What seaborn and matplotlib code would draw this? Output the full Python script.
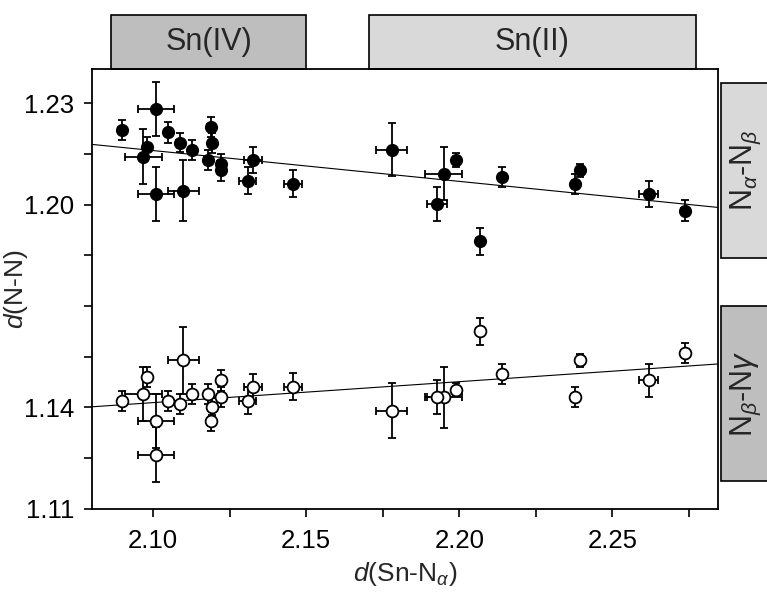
import numpy as np
import pandas as pd
import matplotlib
matplotlib.use("Agg")
import matplotlib.pyplot as plt
import matplotlib.transforms as mtrans
from matplotlib.patches import Rectangle
import seaborn as sns

# d(Sn-N_alpha) and its uncertainty
sn_n = [2.0898, 2.0979, 2.0968, 2.1010, 2.1010, 2.1050, 2.1088, 2.1099, 2.1129,
        2.1178, 2.1189, 2.1194, 2.1222, 2.1222, 2.1327, 2.1309, 2.1457,
        2.1779, 2.1949, 2.1928, 2.1990, 2.2068, 2.2141, 2.2395, 2.2379, 2.2618, 2.2736]
sn_n_err = [0.0012, 0.0012, 0.0060, 0.0060, 0.0060, 0.0012, 0.0012, 0.0050, 0.0012,
            0.0012, 0.0012, 0.0012, 0.0012, 0.0012, 0.0029, 0.0028, 0.0030,
            0.0050, 0.0060, 0.0033, 0.0012, 0.0012, 0.0012, 0.0012, 0.0012, 0.0032, 0.0012]

# d(N_alpha-N_beta)
n_ab = [1.2221, 1.2170, 1.2142, 1.2282, 1.2031, 1.2213, 1.2183, 1.2041, 1.2162,
        1.2132, 1.2230, 1.2181, 1.2120, 1.2101, 1.2132, 1.2071, 1.2061,
        1.2162, 1.2091, 1.2001, 1.2132, 1.1891, 1.2081, 1.2101, 1.2061, 1.2031, 1.1982]
n_ab_err = [0.0030, 0.0030, 0.0080, 0.0079, 0.0080, 0.0030, 0.0029, 0.0091, 0.0030,
            0.0030, 0.0030, 0.0030, 0.0030, 0.0030, 0.0038, 0.0040, 0.0040,
            0.0079, 0.0079, 0.0050, 0.0020, 0.0039, 0.0030, 0.0020, 0.0030, 0.0039, 0.0030]

# d(N_beta-N_gamma)
n_bg = [1.1420, 1.1490, 1.1440, 1.1359, 1.1261, 1.1420, 1.1411, 1.1539, 1.1440,
        1.1440, 1.1361, 1.1402, 1.1480, 1.1431, 1.1461, 1.1420, 1.1461,
        1.1391, 1.1430, 1.1430, 1.1453, 1.1625, 1.1500, 1.1539, 1.1430, 1.1480, 1.1561]
n_bg_err = [0.0030, 0.0030, 0.0080, 0.0080, 0.0080, 0.0030, 0.0030, 0.0100, 0.0030,
            0.0030, 0.0030, 0.0025, 0.0030, 0.0030, 0.0039, 0.0040, 0.0040,
            0.0080, 0.0090, 0.0050, 0.0020, 0.0039, 0.0030, 0.0020, 0.0030, 0.0050, 0.0030]

x_ticks = [2.100, 2.125, 2.150, 2.175, 2.200, 2.225, 2.250, 2.275]
x_tick_labels = ["2.10", "", "2.15", "", "2.20", "", "2.25", ""]
y_ticks = [1.110, 1.125, 1.140, 1.155, 1.170, 1.185, 1.200, 1.215, 1.230]
y_tick_labels = ["1.11", "", "1.14", "", "", "", "1.20", "", "1.23"]

# oxidation-state strips on top (x range) and bond strips on the right (y range)
top_strips = [("Sn(IV)", 2.0862, 2.1501, "#bebebe"), ("Sn(II)", 2.1705, 2.2772, "#d9d9d9")]
right_strips = [(r"N$_\alpha$-N$_\beta$", 1.1843, 1.2360, "#d9d9d9"),
                (r"N$_\beta$-N$\gamma$", 1.1182, 1.1699, "#bebebe")]

sns.set_theme(style="ticks")
plt.rcParams['font.family'] = ['Liberation Sans', 'DejaVu Sans']
plt.rcParams['mathtext.fontset'] = 'custom'
plt.rcParams['mathtext.rm'] = 'Liberation Sans'
plt.rcParams['mathtext.it'] = 'Liberation Sans:italic'
plt.rcParams['mathtext.bf'] = 'Liberation Sans:bold'

df = pd.DataFrame({"sn_n": sn_n, "sn_n_err": sn_n_err,
                   "n_ab": n_ab, "n_ab_err": n_ab_err,
                   "n_bg": n_bg, "n_bg_err": n_bg_err})

fig = plt.figure(figsize=(7.67, 5.99), dpi=100)
ax = fig.add_axes([0.1196, 0.1503, 0.8166, 0.7341])
ax.set_xlim(2.080, 2.2845)
ax.set_ylim(1.110, 1.240)

# fitted lines across the full panel
for col in ["n_ab", "n_bg"]:
    sns.regplot(data=df, x="sn_n", y=col, ax=ax, scatter=False, ci=None,
                truncate=False, color="black", line_kws=dict(lw=0.8, zorder=1))

for col in ["n_ab", "n_bg"]:
    ax.errorbar(df["sn_n"], df[col], xerr=df["sn_n_err"], yerr=df[col + "_err"],
                fmt="none", ecolor="black", elinewidth=1.3, capsize=2.8,
                capthick=1.3, zorder=2)

sns.scatterplot(data=df, x="sn_n", y="n_ab", ax=ax, color="black", marker="o",
                s=72, edgecolor="black", linewidth=1.0, zorder=3)
sns.scatterplot(data=df, x="sn_n", y="n_bg", ax=ax, color="white", marker="o",
                s=72, edgecolor="black", linewidth=1.3, zorder=3)

ax.set_xticks(x_ticks)
ax.set_xticklabels(x_tick_labels)
ax.set_yticks(y_ticks)
ax.set_yticklabels(y_tick_labels)
ax.tick_params(axis="both", direction="out", length=5.5, width=1.2,
               labelsize=18.5, colors="black", pad=7)
ax.tick_params(axis="x", pad=9)
for sp in ax.spines.values():
    sp.set_visible(True)
    sp.set_linewidth(1.3)
    sp.set_color("black")

ax.set_xlabel(r"$d$(Sn-N$_\alpha$)", fontsize=19, labelpad=5)
ax.set_ylabel(r"$d$(N-N)", fontsize=19)
ax.yaxis.set_label_coords(-0.098, 0.5)

tr_top = mtrans.blended_transform_factory(ax.transData, ax.transAxes)
for label, x0, x1, fc in top_strips:
    ax.add_patch(Rectangle((x0, 1.0), x1 - x0, 0.1235, transform=tr_top,
                           facecolor=fc, edgecolor="black", lw=1.2, clip_on=False))
    ax.text((x0 + x1) / 2, 1.0 + 0.0618, label, transform=tr_top, fontsize=22,
            ha="center", va="center")

tr_right = mtrans.blended_transform_factory(ax.transAxes, ax.transData)
for label, y0, y1, fc in right_strips:
    ax.add_patch(Rectangle((1.004, y0), 0.2, y1 - y0, transform=tr_right,
                           facecolor=fc, edgecolor="black", lw=1.2, clip_on=False))
    ax.text(1.045, (y0 + y1) / 2, label, transform=tr_right, fontsize=22,
            rotation=90, ha="center", va="center")

fig.savefig("out.png", dpi=100)
